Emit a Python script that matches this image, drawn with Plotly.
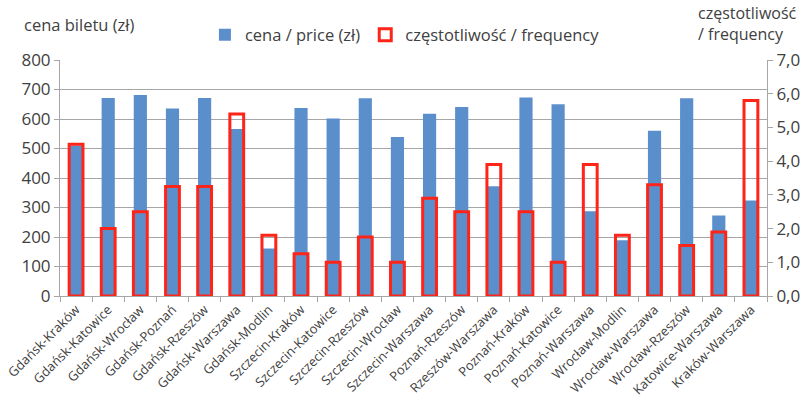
import plotly.graph_objects as go

routes = ['Gdańsk-Kraków', 'Gdańsk-Katowice', 'Gdańsk-Wrocław', 'Gdańsk-Poznań', 'Gdańsk-Rzeszów',
          'Gdańsk-Warszawa', 'Gdańsk-Modlin', 'Szczecin-Kraków', 'Szczecin-Katowice', 'Szczecin-Rzeszów',
          'Szczecin-Wrocław', 'Szczecin-Warszawa', 'Poznań-Rzeszów', 'Rzeszów-Warszawa', 'Poznań-Kraków',
          'Poznań-Katowice', 'Poznań-Warszawa', 'Wrocław-Modlin', 'Wrocław-Warszawa', 'Wrocław-Rzeszów',
          'Katowice-Warszawa', 'Kraków-Warszawa']

price = [510, 671, 681, 636, 671, 566, 161, 637, 602, 670, 539, 618, 641, 372, 673, 650, 287, 189, 560, 670, 273, 324]

frequency = [4.5, 2.0, 2.5, 3.25, 3.25, 5.4, 1.8, 1.25, 1.0, 1.75, 1.0, 2.9, 2.5, 3.9, 2.5, 1.0, 3.9, 1.8, 3.3, 1.5, 1.9, 5.8]

left_ticks = [0, 100, 200, 300, 400, 500, 600, 700, 800]
right_ticks = [0, 1, 2, 3, 4, 5, 6, 7]

font = "Open Sans"
grey = "#404040"

fig = go.Figure()
fig.add_trace(go.Bar(x=routes, y=price, name='cena / price (zł)',
                     marker=dict(color='#5B8FCC', line=dict(width=0)), width=0.41))
fig.add_trace(go.Bar(x=routes, y=frequency, name='częstotliwość / frequency', yaxis='y2',
                     marker=dict(color='rgba(0,0,0,0)', line=dict(color='#FF2418', width=3)), width=0.43))

fig.update_layout(
    width=804, height=406,
    margin=dict(l=60, r=37, t=60, b=110, autoexpand=False),
    paper_bgcolor='white', plot_bgcolor='white',
    barmode='overlay',
    separators=', ',
    font=dict(family=font, size=16, color=grey),
    showlegend=True,
    legend=dict(orientation='h', x=0.205, y=1.106, xanchor='left', yanchor='middle',
                font=dict(size=16.5, color=grey), bgcolor='rgba(0,0,0,0)', itemwidth=30,
                traceorder='normal'),
    xaxis=dict(tickangle=-45, tickson='boundaries', ticks='outside', ticklen=5, tickcolor='#A6A6A6',
               showgrid=False, showline=True, linecolor='#A6A6A6', linewidth=1,
               tickfont=dict(size=13, color=grey)),
    yaxis=dict(range=[0, 800], tickvals=left_ticks, ticks='outside', ticklen=5, tickcolor='#A6A6A6',
               showgrid=True, gridcolor='#A6A6A6', gridwidth=1, showline=True, linecolor='#A6A6A6',
               zeroline=False, tickfont=dict(size=17, color=grey)),
    yaxis2=dict(range=[0, 7], tickvals=right_ticks, tickformat='.1f', overlaying='y', side='right',
                ticks='outside', ticklen=5, tickcolor='#A6A6A6', showgrid=False, showline=True,
                linecolor='#A6A6A6', zeroline=False, tickfont=dict(size=17, color=grey)),
)

fig.add_annotation(text='cena biletu (zł)', xref='paper', yref='paper', x=-0.054, y=1.15,
                   xanchor='left', yanchor='middle', showarrow=False, font=dict(size=16.5, color=grey))
fig.add_annotation(text='częstotliwość<br>/ frequency', xref='paper', yref='paper', x=0.899, y=1.155,
                   xanchor='left', yanchor='middle', align='left', showarrow=False,
                   font=dict(size=16, color=grey))

# the page body has a default 8px margin; remove it so the figure fills the window
fig.write_html("out.html", config={'displayModeBar': False},
               post_script="document.body.style.margin='0';")
